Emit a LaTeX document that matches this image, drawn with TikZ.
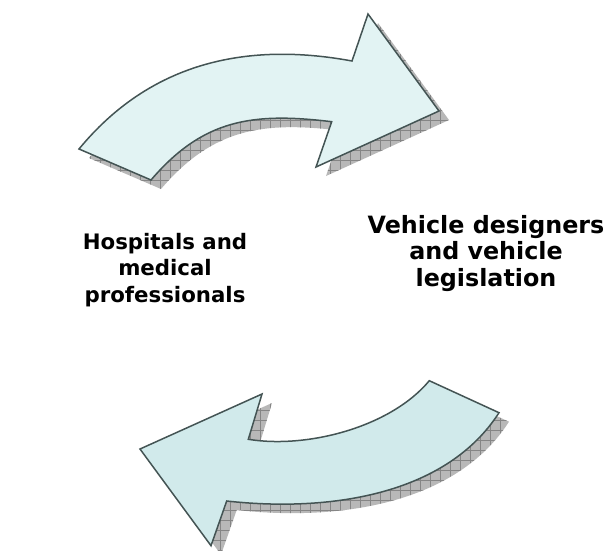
\documentclass[tikz,border=0pt]{standalone}
\usepackage{fontspec}
\setmainfont{DejaVu Sans}
\usetikzlibrary{patterns.meta}

\definecolor{bodyTop}{RGB}{226,243,243}
\definecolor{bodyLow}{RGB}{209,234,235}
\definecolor{edgeGrey}{RGB}{68,84,84}

% outlines of the two curved arrows (x right, y down, 1 unit = 1pt)
\newcommand\upperArrowPath{(79,149) .. controls (149,64) and (244,41) .. (352,61)
  -- (368,14) -- (439,111) -- (316,167) -- (331.7,121.7)
  .. controls (252.5,112.1) and (203,119.2) .. (151,180) -- cycle}
\newcommand\lowerArrowPath{(429.3,380.7) .. controls (390.9,426.9) and (307.7,448.9) .. (248.3,439.3)
  -- (262,394) -- (140,449) -- (211,545.7) -- (226.7,501)
  .. controls (325.7,512) and (445,496.7) .. (499,412.7) -- cycle}

\tikzset{
  dropshadow/.style={fill=black!28,
    postaction={pattern={Hatch[angle=0,distance=10pt,line width=0.6pt]}, pattern color=black!48}},
  arrowbody/.style={draw=edgeGrey, line width=1.5pt, line join=miter},
  caption/.style={align=center, inner sep=0pt, anchor=base, text=black}
}

\begin{document}
\begin{tikzpicture}[x=1pt,y=-1pt]
\useasboundingbox (0,0) rectangle (607,550);

% shadows
\path[dropshadow, shift={(10,9)}] \upperArrowPath;
\path[dropshadow, shift={(10,9)}] \lowerArrowPath;

% arrow bodies
\path[arrowbody, fill=bodyTop] \upperArrowPath;
\path[arrowbody, fill=bodyLow] \lowerArrowPath;

% labels (anchor base = baseline of the last line)
\node[caption, font=\bfseries\fontsize{21.3}{26.3}\selectfont] (hosp) at (165,302)
  {Hospitals and\\medical\\professionals};
\node[caption, font=\bfseries\fontsize{23.8}{26.7}\selectfont] (veh) at (486,286.5)
  {Vehicle designers\\and vehicle\\legislation};
\end{tikzpicture}
\end{document}
